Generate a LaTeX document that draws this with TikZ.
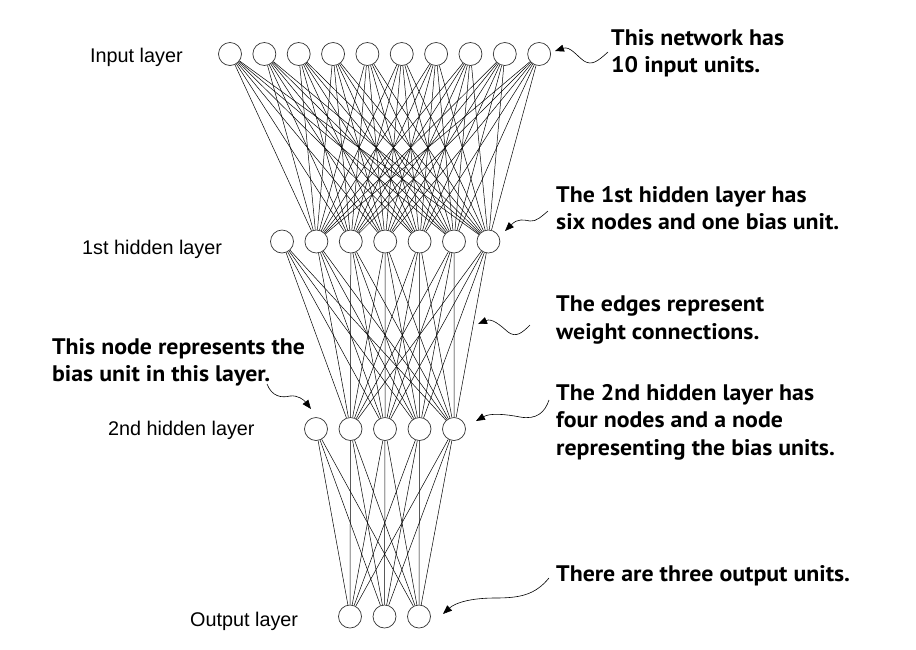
\documentclass[tikz,border=0pt]{standalone}
\usepackage{fontspec}
\setmainfont{Liberation Sans}
\newfontfamily\notefont[FakeStretch=1.06]{PT Sans}
\usetikzlibrary{arrows.meta}
\begin{document}
\begin{tikzpicture}[x=1pt,y=-1pt,
  unit/.style={circle,draw=black!80,line width=0.7pt,minimum size=23pt,inner sep=0pt},
  edge/.style={line width=0.5pt},
  layerlabel/.style={font=\fontsize{19.8}{23}\selectfont,anchor=base west,inner sep=0pt},
  note/.style={font=\notefont\bfseries\fontsize{22.5}{27.5}\selectfont,align=left,anchor=north west,inner sep=0pt},
  callout/.style={line width=0.6pt,-{Triangle[length=9pt,width=7pt]}}]
\useasboundingbox (0,0) rectangle (916,649);
% layers
\foreach \i in {1,...,10}{\node[unit] (in\i) at ({230+34.35*(\i-1)},54) {};}
\foreach \i in {1,...,7}{\node[unit] (ha\i) at ({282+34.4*(\i-1)},241.5) {};}
\foreach \i in {1,...,5}{\node[unit] (hb\i) at ({316+34.5*(\i-1)},429) {};}
\foreach \i in {1,...,3}{\node[unit] (out\i) at ({350+34.5*(\i-1)},616.5) {};}
% edges
\foreach \i in {1,...,10}{\foreach \j in {2,...,7}{\draw[edge] (in\i) -- (ha\j);}}
\foreach \i in {1,...,7}{\foreach \j in {2,...,5}{\draw[edge] (ha\i) -- (hb\j);}}
\foreach \i in {1,...,5}{\foreach \j in {1,...,3}{\draw[edge] (hb\i) -- (out\j);}}
% layer labels
\node[layerlabel] (lin) at (90,62) {Input layer};
\node[layerlabel] (lha) at (82,254) {1st hidden layer};
\node[layerlabel] (lhb) at (108,435) {2nd hidden layer};
\node[layerlabel] (lout) at (190,626) {Output layer};
% notes
\node[note] (n1) at (611,29) {This network has\\10 input units.};
\node[note] (n2) at (556,186) {The 1st hidden layer has\\six nodes and one bias unit.};
\node[note] (n3) at (52,338) {This node represents the\\bias unit in this layer.};
\node[note] (n4) at (556,296) {The edges represent\\weight connections.};
\node[note] (n5) at (556,384) {The 2nd hidden layer has\\four nodes and a node\\representing the bias units.};
\node[note] (n6) at (556,565) {There are three output units.};
% callout ends
\coordinate (s1) at (608,52);  \coordinate (t1) at (555,51);
\coordinate (s2) at (548,211); \coordinate (t2) at (505,231);
\coordinate (s3) at (530,325); \coordinate (t3) at (478,324);
\coordinate (s4) at (267,384); \coordinate (t4) at (311,409);
\coordinate (s5) at (549,400); \coordinate (t5) at (476,421);
\coordinate (s6) at (549,578); \coordinate (t6) at (443,614);
\draw[callout] (s1) .. controls (598,61) and (592,66) .. (584,61) .. controls (577,56) and (570,46) .. (t1);
\draw[callout] (s2) .. controls (542,216) and (536,222) .. (530,221) .. controls (524,220) and (518,218) .. (t2);
\draw[callout] (s3) .. controls (522,333) and (516,338) .. (508,332) .. controls (500,325) and (492,318) .. (t3);
\draw[callout] (s4) .. controls (272,397) and (282,398) .. (290,396) .. controls (298,395) and (304,400) .. (t4);
\draw[callout] (s5) .. controls (545,412) and (537,420) .. (520,417) .. controls (505,414) and (490,413) .. (t5);
\draw[callout] (s6) .. controls (535,595) and (520,598) .. (495,598) .. controls (470,598) and (455,603) .. (t6);
\end{tikzpicture}
\end{document}
